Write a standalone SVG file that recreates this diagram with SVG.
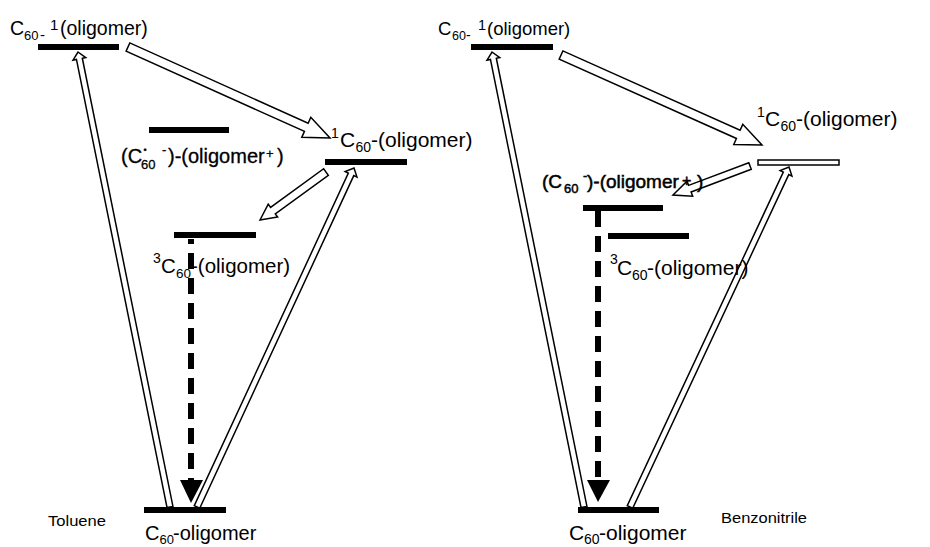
<svg xmlns="http://www.w3.org/2000/svg" width="930" height="547" viewBox="0 0 930 547">
<style>
.bar{fill:#000}
.hbar{fill:#fff;stroke:#000;stroke-width:1.5}
.blk{fill:#fff;stroke:#000;stroke-width:1.5;stroke-linejoin:miter}
.dbl{fill:#fff;stroke:#000;stroke-width:1.5;stroke-linejoin:miter}
.dash{stroke:#000;stroke-width:6;stroke-dasharray:16 9;fill:none}
.head{fill:#000}
text{font-family:"Liberation Sans",Arial,sans-serif;fill:#000}
.bold{stroke:#000;stroke-width:0.5}
</style>
<rect width="930" height="547" fill="#fff"/>

<g id="connectors">
  <!-- left panel -->
  <polygon class="dbl" transform="translate(78,52) rotate(-101.43)" points="0,0 -7,6.5 -7,3 -464.2,3 -464.2,-3 -7,-3 -7,-6.5"/>
  <polygon class="dbl" transform="translate(354,168) rotate(-65.15)" points="0,0 -7,6.5 -7,3 -373.6,3 -373.6,-3 -7,-3 -7,-6.5"/>
  <polygon class="blk" transform="translate(330,138) rotate(24.25)" points="0,0 -26,11 -26,4.5 -221.6,4.5 -221.6,-4.5 -26,-4.5 -26,-11"/>
  <polygon class="blk" transform="translate(260,220) rotate(143.97)" points="0,0 -16,8 -16,4 -81.6,4 -81.6,-4 -16,-4 -16,-8"/>
  <line class="dash" x1="191" y1="239" x2="191" y2="481" stroke-dashoffset="11"/>
  <polygon class="head" points="180,480 203,480 191,503"/>
  <!-- right panel -->
  <polygon class="dbl" transform="translate(492,52) rotate(-101.43)" points="0,0 -7,6.5 -7,3 -464.2,3 -464.2,-3 -7,-3 -7,-6.5"/>
  <polygon class="dbl" transform="translate(789,167) rotate(-64.93)" points="0,0 -7,6.5 -7,3 -375.3,3 -375.3,-3 -7,-3 -7,-6.5"/>
  <polygon class="blk" transform="translate(762,145) rotate(24.12)" points="0,0 -26,11 -26,4.5 -220.2,4.5 -220.2,-4.5 -26,-4.5 -26,-11"/>
  <polygon class="blk" transform="translate(673,195) rotate(159.4)" points="0,0 -18,8 -18,3.5 -82.3,3.5 -82.3,-3.5 -18,-3.5 -18,-8"/>
  <line class="dash" x1="598" y1="211" x2="598" y2="481"/>
  <polygon class="head" points="587,480 610,480 598,502"/>
</g>

<!-- left panel nodes -->
<g id="L-C60-1">
  <rect class="bar" x="38" y="44" width="81" height="6"/>
  <text font-size="19.5"><tspan x="10" y="35">C</tspan><tspan x="24" y="40" font-size="13">60</tspan><tspan x="40" y="40" font-size="15">-</tspan><tspan x="50" y="30" font-size="15">1</tspan><tspan x="60" y="35">(oligomer)</tspan></text>
</g>
<g id="L-CT">
  <rect class="bar" x="149" y="127" width="80" height="6"/>
  <text class="bold" font-size="20" style="stroke-width:0.3"><tspan x="121" y="163">(C</tspan><tspan x="141" y="169" font-size="13">60</tspan><tspan x="143.5" y="153" font-size="9">•</tspan><tspan x="162" y="154" font-size="13">-</tspan><tspan x="168" y="163">)-(oligomer</tspan><tspan x="266" y="158" font-size="13">+</tspan><tspan x="277" y="163">)</tspan></text>
</g>
<g id="L-1C60">
  <rect class="bar" x="325" y="159" width="82" height="6"/>
  <text font-size="21"><tspan x="331" y="138" font-size="14">1</tspan><tspan x="340" y="147">C</tspan><tspan x="355.5" y="152" font-size="14">60</tspan><tspan x="371" y="147">-(oligomer)</tspan></text>
</g>
<g id="L-3C60">
  <rect class="bar" x="174" y="232" width="82" height="6"/>
  <text font-size="20.5"><tspan x="153" y="263" font-size="14">3</tspan><tspan x="161" y="273">C</tspan><tspan x="176" y="278" font-size="13.5">60</tspan><tspan x="191" y="273">-(oligomer)</tspan></text>
</g>
<g id="L-ground">
  <rect class="bar" x="144" y="507" width="82" height="6"/>
  <text font-size="20"><tspan x="145" y="540">C</tspan><tspan x="159.5" y="544" font-size="13">60</tspan><tspan x="173" y="540">-oligomer</tspan></text>
</g>
<g id="L-solvent">
  <text x="48" y="526" font-size="15.5" textLength="58" lengthAdjust="spacingAndGlyphs">Toluene</text>
</g>

<!-- right panel nodes -->
<g id="R-C60-1">
  <rect class="bar" x="471" y="44" width="82" height="6"/>
  <text font-size="18.5"><tspan x="438" y="35">C</tspan><tspan x="452" y="40" font-size="12.5">60</tspan><tspan x="466" y="40" font-size="14">-</tspan><tspan x="478" y="30" font-size="14.5">1</tspan><tspan x="487" y="35">(oligomer)</tspan></text>
</g>
<g id="R-1C60">
  <rect class="hbar" x="758" y="160" width="81" height="5"/>
  <text font-size="21"><tspan x="757" y="117" font-size="14">1</tspan><tspan x="765" y="126">C</tspan><tspan x="780.5" y="131" font-size="14">60</tspan><tspan x="796" y="126">-(oligomer)</tspan></text>
</g>
<g id="R-CT">
  <rect class="bar" x="583" y="205" width="80" height="6"/>
  <text class="bold" font-size="19"><tspan x="542" y="188">(C</tspan><tspan x="564" y="193" font-size="13">60</tspan><tspan x="583" y="180" font-size="13">-</tspan><tspan x="587" y="188">)-(oligomer</tspan><tspan x="682" y="186" font-size="16">+</tspan><tspan x="697" y="188">)</tspan></text>
</g>
<g id="R-3C60">
  <rect class="bar" x="608" y="233" width="81" height="6"/>
  <text font-size="21"><tspan x="610" y="264" font-size="14">3</tspan><tspan x="617" y="275">C</tspan><tspan x="632" y="280" font-size="14">60</tspan><tspan x="647" y="275">-(oligomer)</tspan></text>
</g>
<g id="R-ground">
  <rect class="bar" x="578" y="507" width="81" height="6"/>
  <text font-size="21"><tspan x="569" y="540">C</tspan><tspan x="584" y="544" font-size="14">60</tspan><tspan x="599" y="540">-oligomer</tspan></text>
</g>
<g id="R-solvent">
  <text x="721" y="523" font-size="15.5" textLength="86" lengthAdjust="spacingAndGlyphs">Benzonitrile</text>
</g>
</svg>
